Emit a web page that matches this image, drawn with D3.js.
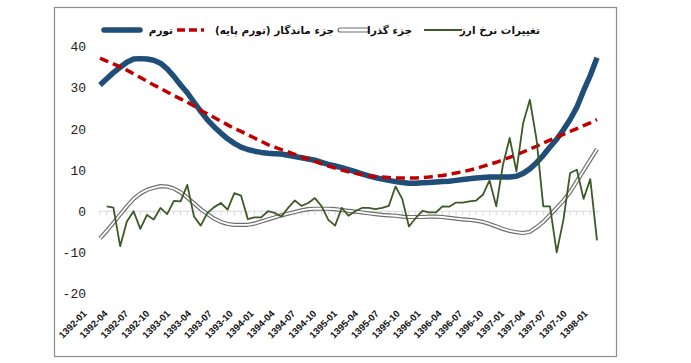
<!DOCTYPE html>
<html>
<head>
<meta charset="utf-8">
<script src="https://cdn.jsdelivr.net/npm/d3@7"></script>
<style>
  body { margin: 0; background: #fff; }
</style>
</head>
<body>
<script>
// monthly data, 1392-01 .. 1398-03
var months = [];
for (var yr = 1392; yr <= 1398; yr++) {
    for (var m = 1; m <= 12; m++) {
        if (yr === 1398 && m > 3) break;
        months.push(yr + "-" + (m < 10 ? "0" + m : m));
    }
}

var inflation = [30.7,32.2,33.7,35.0,36.2,37.0,37.1,37.0,36.7,36.0,34.6,32.8,30.7,28.8,26.5,24.3,22.2,20.5,19.0,17.6,
    16.5,15.6,15.0,14.6,14.3,14.1,14.0,13.9,13.6,13.3,13.0,12.7,12.4,11.9,11.4,11.0,10.6,10.1,9.6,9.1,
    8.6,8.2,7.8,7.5,7.2,7.0,6.8,6.8,6.9,7.0,7.1,7.2,7.3,7.5,7.7,7.9,8.1,8.2,8.3,8.3,
    8.3,8.3,8.5,9.2,10.3,11.8,13.6,15.6,17.5,19.8,22.3,25.3,29.3,33.0,37.3];

var core = [37.2,36.5,35.8,35.1,34.3,33.4,32.5,31.6,30.7,29.9,29.0,28.1,27.3,26.5,25.6,24.5,23.7,22.8,21.9,21.0,
    20.1,19.4,18.6,17.8,17.0,16.2,15.6,15.0,14.4,13.8,13.2,12.7,12.1,11.5,11.0,10.5,10.0,9.6,9.2,8.9,
    8.6,8.4,8.3,8.2,8.1,8.1,8.1,8.1,8.2,8.3,8.5,8.7,9.0,9.3,9.6,10.0,10.4,10.9,11.4,11.9,
    12.5,13.1,13.7,14.4,15.1,15.8,16.6,17.3,18.0,18.7,19.4,20.1,20.8,21.5,22.3];

var transitory = [-6.6,-4.8,-2.8,-0.8,1.2,3.0,4.3,5.2,5.7,6.1,6.0,5.5,4.6,3.3,1.9,0.5,-0.7,-1.8,-2.6,-3.1,
    -3.3,-3.3,-3.3,-3.0,-2.5,-2.0,-1.5,-1.0,-0.6,-0.2,0.2,0.5,0.6,0.6,0.6,0.5,0.3,0.1,-0.1,-0.3,
    -0.5,-0.7,-0.9,-1.0,-1.1,-1.3,-1.4,-1.4,-1.4,-1.3,-1.3,-1.4,-1.6,-1.8,-2.0,-2.1,-2.3,-2.6,-3.1,-3.7,
    -4.3,-4.8,-5.1,-5.3,-5.0,-3.9,-2.6,-0.9,0.8,2.6,4.7,7.3,9.9,12.5,15.1];

var fx = [null,1.2,0.9,-8.5,-2.5,0,-4.3,-0.9,-2,0.8,-0.7,2.5,2.4,6.4,-1.3,-3.5,-0.4,1,2,0.4,
    4.4,3.8,-1.9,-1.5,-1.5,0,-0.4,-1.3,0.8,2.6,1.3,2,3.2,1.2,-2.1,-3.5,0.8,-1.1,0,0.8,
    0.8,0.5,0.8,1.3,6,3,-3.7,-1.7,0.1,-0.3,-0.3,1.2,1.1,2.1,2.1,2.4,2.6,4,7.5,1.2,
    11.3,17.8,9.7,21.4,27.1,17.4,1.2,1.2,-10,-2.1,9.3,10.1,3,7.8,-7.1];

var yTicks = [40, 30, 20, 10, 0, -10, -20];
var xTickLabels = months.filter(function(d, i) { return i % 3 === 0; });

var w = 691, h = 363;

var svg = d3.select("body")
    .append("svg")
    .attr("width", w)
    .attr("height", h);

// outer frame
svg.append("rect")
    .attr("x", 54.5).attr("y", 7.5)
    .attr("width", 562).attr("height", 349)
    .attr("fill", "none")
    .attr("stroke", "#8c8c8c")
    .attr("stroke-width", 1.2);

var x = d3.scalePoint().domain(months).range([100, 597]);
var y = d3.scaleLinear().domain([-20, 40]).range([293.5, 46.7]);
var xLab = d3.scalePoint().domain(xTickLabels).range([85, 586]);

// y labels
svg.selectAll("text.ylab")
    .data(yTicks)
    .enter()
    .append("text")
    .attr("class", "ylab")
    .attr("x", 86)
    .attr("y", function(d) { return y(d); })
    .attr("dy", "0.35em")
    .attr("text-anchor", "end")
    .attr("font-family", "Liberation Mono, monospace")
    .attr("font-size", "13px")
    .attr("fill", "#222")
    .text(function(d) { return d < 0 ? "-" + Math.abs(d) : d; });

// zero axis with monthly ticks
svg.append("line")
    .attr("x1", 99).attr("x2", 600)
    .attr("y1", y(0)).attr("y2", y(0))
    .attr("stroke", "#d9d9d9")
    .attr("stroke-width", 1);

svg.selectAll("line.mtick")
    .data(months)
    .enter()
    .append("line")
    .attr("class", "mtick")
    .attr("x1", function(d) { return x(d); })
    .attr("x2", function(d) { return x(d); })
    .attr("y1", y(0))
    .attr("y2", y(0) + 4)
    .attr("stroke", "#d9d9d9")
    .attr("stroke-width", 1);

// x labels
svg.selectAll("text.xlab")
    .data(xTickLabels)
    .enter()
    .append("text")
    .attr("class", "xlab")
    .attr("transform", function(d) { return "translate(" + xLab(d) + ",312) rotate(-45)"; })
    .attr("dy", "0.35em")
    .attr("text-anchor", "end")
    .attr("font-family", "Liberation Sans, Arial, sans-serif")
    .attr("font-weight", "bold")
    .attr("font-size", "9.5px")
    .attr("fill", "#111")
    .text(function(d) { return d; });

function makeLine(vals) {
    return d3.line()
        .defined(function(d) { return d != null; })
        .x(function(d, i) { return x(months[i]); })
        .y(function(d) { return y(d); })(vals);
}

// transitory: double line
svg.append("path")
    .attr("d", makeLine(transitory))
    .attr("fill", "none")
    .attr("stroke", "#6f6f6f")
    .attr("stroke-width", 4.2)
    .attr("stroke-linejoin", "round");
svg.append("path")
    .attr("d", makeLine(transitory))
    .attr("fill", "none")
    .attr("stroke", "#fff")
    .attr("stroke-width", 1.8)
    .attr("stroke-linejoin", "round");

// inflation
svg.append("path")
    .attr("d", makeLine(inflation))
    .attr("fill", "none")
    .attr("stroke", "#1f4e79")
    .attr("stroke-width", 5.5)
    .attr("stroke-linejoin", "round");

// core
svg.append("path")
    .attr("d", makeLine(core))
    .attr("fill", "none")
    .attr("stroke", "#c00000")
    .attr("stroke-width", 3.5)
    .attr("stroke-dasharray", "9,5");

// fx changes
svg.append("path")
    .attr("d", makeLine(fx))
    .attr("fill", "none")
    .attr("stroke", "#3d5a26")
    .attr("stroke-width", 1.8)
    .attr("stroke-linejoin", "round");

// legend
var ly = 30;
var leg = svg.append("g")
    .attr("font-family", "DejaVu Sans, sans-serif")
    .attr("font-weight", "bold")
    .attr("font-size", "10.5px")
    .attr("fill", "#111");

function legText(xr, s) {
    leg.append("text")
        .attr("x", xr).attr("y", ly)
        .attr("dy", "0.35em")
        .attr("direction", "rtl")
        .attr("text-anchor", "start")
        .text(s);
}

leg.append("line").attr("x1", 104).attr("x2", 140).attr("y1", ly).attr("y2", ly)
    .attr("stroke", "#1f4e79").attr("stroke-width", 5.5).attr("stroke-linecap", "round");
legText(173, "تورم");
leg.append("line").attr("x1", 177).attr("x2", 204).attr("y1", ly).attr("y2", ly)
    .attr("stroke", "#c00000").attr("stroke-width", 3.5).attr("stroke-dasharray", "8,4");
legText(334, "جزء ماندگار (تورم پایه)");
leg.append("rect").attr("x", 338).attr("y", ly - 2).attr("width", 31).attr("height", 4)
    .attr("rx", 2).attr("fill", "#fff").attr("stroke", "#6f6f6f").attr("stroke-width", 1.2);
legText(412, "جزء گذرا");
leg.append("line").attr("x1", 424).attr("x2", 462).attr("y1", ly).attr("y2", ly)
    .attr("stroke", "#3d5a26").attr("stroke-width", 1.8);
legText(540, "تغییرات نرخ ارز");
</script>
</body>
</html>
